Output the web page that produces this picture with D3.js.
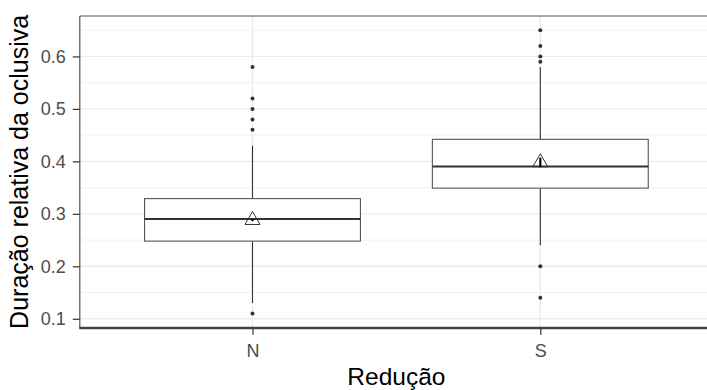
<!DOCTYPE html>
<html>
<head>
<meta charset="utf-8">
<script src="https://cdn.jsdelivr.net/npm/d3@7"></script>
<style>
  html, body { margin: 0; padding: 0; background: #ffffff; }
  svg { display: block; font-family: "Liberation Sans", Arial, sans-serif; }
</style>
</head>
<body>
<svg id="chart" width="707" height="390"></svg>
<script>
// ---- data ----
const categories = ["N", "S"];
const q1Vals = [0.248, 0.349];
const medianVals = [0.290, 0.390];
const q3Vals = [0.329, 0.442];
const whiskerLow = [0.130, 0.240];
const whiskerHigh = [0.430, 0.580];
const meanVals = [0.288, 0.398];
const ciLow = [0.286, 0.389];
const ciHigh = [0.290, 0.407];
const outliersN = [0.11, 0.46, 0.48, 0.50, 0.52, 0.58];
const outliersS = [0.14, 0.20, 0.59, 0.60, 0.62, 0.65];
const yTicks = [0.1, 0.2, 0.3, 0.4, 0.5, 0.6];
const yMinorTicks = [0.15, 0.25, 0.35, 0.45, 0.55, 0.65];
const xTitle = "Redução";
const yTitle = "Duração relativa da oclusiva";

const outliers = [outliersN, outliersS];

// ---- layout ----
const W = 707, H = 390;
const panel = { left: 79.8, right: 713, top: 16, bottom: 327.7 };

const svg = d3.select("#chart");
svg.append("rect").attr("width", W).attr("height", H).attr("fill", "#ffffff");

const x = d3.scalePoint().domain(categories).range([panel.left, panel.right]).padding(0.6);
const y = d3.scaleLinear().domain([0.083, 0.677]).range([panel.bottom, panel.top]);
const step = x.step();
const boxW = step * 0.75;

// minor grid
svg.append("g").selectAll("line").data(yMinorTicks).join("line")
  .attr("x1", panel.left).attr("x2", W)
  .attr("y1", d => y(d)).attr("y2", d => y(d))
  .attr("stroke", "#f2f2f2").attr("stroke-width", 1);

// major grid
svg.append("g").selectAll("line").data(yTicks).join("line")
  .attr("x1", panel.left).attr("x2", W)
  .attr("y1", d => y(d)).attr("y2", d => y(d))
  .attr("stroke", "#ebebeb").attr("stroke-width", 1.4);
svg.append("g").selectAll("line").data(categories).join("line")
  .attr("x1", d => x(d)).attr("x2", d => x(d))
  .attr("y1", panel.top).attr("y2", panel.bottom)
  .attr("stroke", "#ebebeb").attr("stroke-width", 1.4);

// boxplots
const boxes = svg.append("g");
categories.forEach((c, i) => {
  const cx = x(c);
  const g = boxes.append("g");
  // whiskers
  g.append("line").attr("x1", cx).attr("x2", cx)
    .attr("y1", y(q3Vals[i])).attr("y2", y(whiskerHigh[i]))
    .attr("stroke", "#333333").attr("stroke-width", 1.1);
  g.append("line").attr("x1", cx).attr("x2", cx)
    .attr("y1", y(q1Vals[i])).attr("y2", y(whiskerLow[i]))
    .attr("stroke", "#333333").attr("stroke-width", 1.1);
  // box
  g.append("rect")
    .attr("x", cx - boxW / 2).attr("width", boxW)
    .attr("y", y(q3Vals[i])).attr("height", y(q1Vals[i]) - y(q3Vals[i]))
    .attr("fill", "#ffffff").attr("stroke", "#555555").attr("stroke-width", 1.1);
  // median
  g.append("line")
    .attr("x1", cx - boxW / 2).attr("x2", cx + boxW / 2)
    .attr("y1", y(medianVals[i])).attr("y2", y(medianVals[i]))
    .attr("stroke", "#333333").attr("stroke-width", 2);
  // outliers
  g.selectAll("circle").data(outliers[i]).join("circle")
    .attr("cx", cx).attr("cy", d => y(d)).attr("r", 2)
    .attr("fill", "#333333");
  // mean triangle (hollow)
  const my = y(meanVals[i]);
  const xc = 7.5, r = xc / 1.3468 * 1.5551, yc = r / 2;
  g.append("path")
    .attr("d", `M${cx},${my - r} L${cx + xc},${my + yc} L${cx - xc},${my + yc} Z`)
    .attr("fill", "none").attr("stroke", "#333333").attr("stroke-width", 1);
  // confidence interval mark
  g.append("line").attr("x1", cx).attr("x2", cx)
    .attr("y1", y(ciHigh[i])).attr("y2", y(ciLow[i]))
    .attr("stroke", "#000000").attr("stroke-width", 2.2);
});

// panel border: top and left (grey); right edge lies beyond the canvas
svg.append("line")
  .attr("x1", panel.left).attr("x2", W + 10)
  .attr("y1", panel.top).attr("y2", panel.top)
  .attr("stroke", "#555555").attr("stroke-width", 1.2);
svg.append("line")
  .attr("x1", panel.left).attr("x2", panel.left)
  .attr("y1", panel.top).attr("y2", panel.bottom)
  .attr("stroke", "#555555").attr("stroke-width", 1.2);
// bottom axis line (thick, dark)
svg.append("line")
  .attr("x1", panel.left - 0.6).attr("x2", W + 10)
  .attr("y1", panel.bottom + 0.3).attr("y2", panel.bottom + 0.3)
  .attr("stroke", "#444444").attr("stroke-width", 2.6);

// y axis
const yAxis = svg.append("g")
  .attr("transform", `translate(${panel.left},0)`)
  .call(d3.axisLeft(y).tickValues(yTicks).tickFormat(d3.format(".1f")).tickSize(7).tickPadding(7));
yAxis.select(".domain").remove();
yAxis.selectAll(".tick line").attr("stroke", "#333333").attr("stroke-width", 1.2);
yAxis.selectAll(".tick text").attr("fill", "#4d4d4d")
  .style("font-size", "18px").style("font-family", "'Liberation Sans', Arial, sans-serif");

// x axis
const xAxis = svg.append("g")
  .attr("transform", `translate(0,${panel.bottom})`)
  .call(d3.axisBottom(x).tickSize(7).tickPadding(9.5));
xAxis.select(".domain").remove();
xAxis.selectAll(".tick line").attr("stroke", "#333333").attr("stroke-width", 1.2);
xAxis.selectAll(".tick text").attr("fill", "#4d4d4d")
  .style("font-size", "18px").style("font-family", "'Liberation Sans', Arial, sans-serif");

// titles
svg.append("text")
  .attr("x", (panel.left + panel.right) / 2).attr("y", 385)
  .attr("text-anchor", "middle").attr("fill", "#000000")
  .style("font-size", "24.5px").text(xTitle);
svg.append("text")
  .attr("transform", `translate(28.3,${(panel.top + panel.bottom) / 2}) rotate(-90)`)
  .attr("text-anchor", "middle").attr("fill", "#000000")
  .style("font-size", "25px").text(yTitle);
</script>
</body>
</html>
